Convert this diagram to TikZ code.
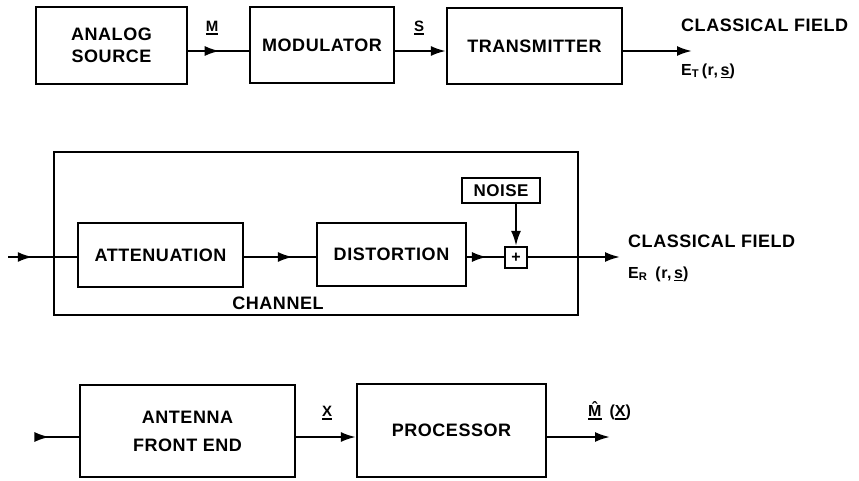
\documentclass[tikz,border=0pt]{standalone}
\usepackage{fontspec}
\setmainfont{Liberation Sans}[LetterSpace=3]
\usetikzlibrary{arrows.meta,decorations.markings}
\newcommand\uln[1]{\setbox0\hbox{#1}\rlap{\raisebox{-3pt}{\rule{\wd0}{1.6pt}}}\box0}
\tikzset{
  box/.style={draw, line width=2.2pt, inner sep=0pt, align=center,
    font=\fontsize{18}{22}\selectfont\bfseries},
  conn/.style={line width=2.2pt},
  tipend/.style={-{Latex[length=15pt,width=10pt]}},
  midarrow/.style={postaction={decorate}, decoration={markings,
    mark=at position #1 with {\arrow{Latex[length=15pt,width=10pt]}}}},
  lbl/.style={inner sep=0pt, font=\fontsize{18}{22}\selectfont\bfseries},
  sm/.style={inner sep=0pt, font=\fontsize{15}{18}\selectfont\bfseries},
  fld/.style={inner sep=0pt, font=\fontsize{16}{18}\selectfont\bfseries},
}
\begin{document}
\begin{tikzpicture}[x=1pt,y=-1pt]
\useasboundingbox (0,0) rectangle (859,480);
% row 1
\node[box, minimum width=151pt, minimum height=77pt] (src) at (111.5,45.5) {ANALOG\\SOURCE};
\node[box, minimum width=144pt, minimum height=76pt] (mod) at (322,45) {MODULATOR};
\node[box, minimum width=175pt, minimum height=76pt] (tx) at (534.5,46) {TRANSMITTER};
\coordinate (r1) at (0,51);
\coordinate (o1) at (692,51);
\draw[conn, midarrow=0.52] (src.east |- r1) -- (mod.west |- r1);
\draw[conn, tipend] (mod.east |- r1) -- (tx.west |- r1);
\draw[conn, tipend] (tx.east |- r1) -- (o1);
\node[sm] (lm) at (212,28) {\uln{M}};
\node[sm] (ls) at (419,28) {\uln{S}};
\node[lbl, anchor=west] (cf1) at (681,25) {CLASSICAL FIELD};
\node[fld, anchor=west] (et) at (681,71) {E\textsubscript{T}\,(r,\,\uln{s})};
% row 2
\node[draw, line width=2.2pt, minimum width=524pt, minimum height=163pt] (chan) at (316,233.5) {};
\node[box, minimum width=165pt, minimum height=64pt] (att) at (160.5,255) {ATTENUATION};
\node[box, minimum width=149pt, minimum height=63pt] (dist) at (391.5,254.5) {DISTORTION};
\node[box, minimum width=78pt, minimum height=25pt, font=\fontsize{17}{20}\selectfont\bfseries] (noise) at (501,190.5) {NOISE};
\node[box, minimum width=22pt, minimum height=21pt, font=\fontsize{16}{16}\selectfont\bfseries] (plus) at (516,257.5) {+};
\coordinate (r2) at (0,257);
\coordinate (in2) at (8,257);
\coordinate (o2) at (620,257);
\draw[conn, midarrow=0.36] (in2) -- (att.west |- r2);
\draw[conn, midarrow=0.68] (att.east |- r2) -- (dist.west |- r2);
\draw[conn, midarrow=0.54] (dist.east |- r2) -- (plus.west |- r2);
\draw[conn, tipend] (plus.north |- noise.south) -- (plus.north);
\draw[conn, tipend] (plus.east |- r2) -- (o2);
\node[lbl] (chl) at (278,303) {CHANNEL};
\node[lbl, anchor=west] (cf2) at (628,241) {CLASSICAL FIELD};
\node[fld, anchor=west] (er) at (628,274) {E\textsubscript{R}\enspace(r,\,\uln{s})};
% row 3
\node[box, minimum width=215pt, minimum height=92pt, font=\fontsize{18}{28}\selectfont\bfseries] (ant) at (187.5,431) {ANTENNA\\FRONT END};
\node[box, minimum width=189pt, minimum height=93pt] (proc) at (451.5,430.5) {PROCESSOR};
\coordinate (r3) at (0,437);
\coordinate (in3) at (35,437);
\coordinate (o3) at (610,437);
\draw[conn, midarrow=0.33] (in3) -- (ant.west |- r3);
\draw[conn, tipend] (ant.east |- r3) -- (proc.west |- r3);
\draw[conn, tipend] (proc.east |- r3) -- (o3);
\node[sm] (lx) at (327,413) {\uln{X}};
\node[inner sep=0pt, anchor=west, font=\fontsize{16}{18}\selectfont\bfseries] (mh) at (588,411) {\uln{M̂}\enspace(\uln{X})};
\end{tikzpicture}
\end{document}
